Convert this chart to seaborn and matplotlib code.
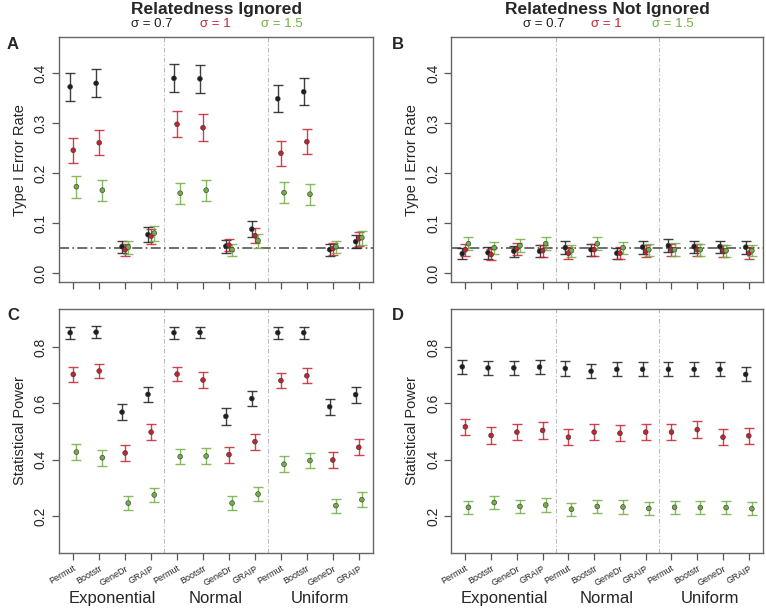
import numpy as np
import pandas as pd
import matplotlib
matplotlib.use("Agg")
import matplotlib.pyplot as plt
import seaborn as sns

methods = ["Permut", "Bootstr", "GeneDr", "GRAIP"] * 3
dists = ["Exponential", "Normal", "Uniform"]
sigmas = ["0.7", "1", "1.5"]
sigma_colors = ["#1e1e1e", "#c4232f", "#72ae45"]

# A: type I error, relatedness ignored
a_07 = [0.373, 0.380, 0.053, 0.077, 0.390, 0.389, 0.054, 0.088, 0.349, 0.363, 0.047, 0.063]
a_10 = [0.246, 0.261, 0.047, 0.074, 0.298, 0.291, 0.056, 0.075, 0.240, 0.263, 0.049, 0.069]
a_15 = [0.173, 0.166, 0.052, 0.080, 0.160, 0.166, 0.047, 0.065, 0.161, 0.158, 0.053, 0.071]
a_07_err = [0.028, 0.028, 0.012, 0.015, 0.028, 0.028, 0.013, 0.016, 0.027, 0.027, 0.012, 0.013]
a_10_err = [0.025, 0.025, 0.012, 0.015, 0.026, 0.027, 0.012, 0.015, 0.025, 0.025, 0.012, 0.014]
a_15_err = [0.022, 0.021, 0.013, 0.015, 0.021, 0.021, 0.012, 0.014, 0.021, 0.021, 0.012, 0.014]

# B: type I error, relatedness not ignored
b_07 = [0.039, 0.041, 0.044, 0.044, 0.051, 0.047, 0.040, 0.052, 0.055, 0.053, 0.053, 0.052]
b_10 = [0.047, 0.037, 0.049, 0.045, 0.040, 0.047, 0.040, 0.044, 0.047, 0.047, 0.045, 0.040]
b_15 = [0.059, 0.051, 0.055, 0.059, 0.045, 0.059, 0.051, 0.047, 0.047, 0.047, 0.045, 0.045]
b_07_err = [0.011, 0.012, 0.011, 0.012, 0.013, 0.012, 0.011, 0.013, 0.013, 0.012, 0.012, 0.013]
b_10_err = [0.012, 0.011, 0.012, 0.012, 0.012, 0.012, 0.012, 0.012, 0.012, 0.012, 0.012, 0.012]
b_15_err = [0.013, 0.012, 0.013, 0.013, 0.012, 0.013, 0.012, 0.012, 0.013, 0.012, 0.012, 0.011]

# C: power, relatedness ignored
c_07 = [0.851, 0.853, 0.569, 0.632, 0.851, 0.852, 0.554, 0.617, 0.851, 0.851, 0.588, 0.631]
c_10 = [0.703, 0.715, 0.424, 0.498, 0.704, 0.683, 0.418, 0.464, 0.681, 0.698, 0.399, 0.444]
c_15 = [0.427, 0.407, 0.246, 0.275, 0.411, 0.413, 0.246, 0.278, 0.384, 0.397, 0.237, 0.258]
c_07_err = [0.021, 0.021, 0.028, 0.027, 0.021, 0.020, 0.029, 0.028, 0.021, 0.021, 0.028, 0.028]
c_10_err = [0.026, 0.026, 0.028, 0.029, 0.026, 0.027, 0.028, 0.028, 0.027, 0.027, 0.028, 0.028]
c_15_err = [0.028, 0.028, 0.025, 0.026, 0.028, 0.028, 0.025, 0.026, 0.028, 0.028, 0.025, 0.026]

# D: power, relatedness not ignored
d_07 = [0.730, 0.726, 0.726, 0.729, 0.724, 0.714, 0.721, 0.721, 0.721, 0.721, 0.721, 0.703]
d_10 = [0.517, 0.486, 0.498, 0.504, 0.480, 0.498, 0.494, 0.498, 0.498, 0.507, 0.480, 0.485]
d_15 = [0.231, 0.248, 0.234, 0.239, 0.224, 0.234, 0.232, 0.227, 0.231, 0.230, 0.230, 0.226]
d_07_err = [0.025] * 12
d_10_err = [0.029] * 12
d_15_err = [0.024] * 12


def make_df(vals, errs):
    rows = []
    for k, (v, e) in enumerate(zip(vals, errs)):
        for i in range(12):
            rows.append({"pos": i + 1 + (k - 1) * 0.12, "val": v[i], "err": e[i],
                         "sigma": sigmas[k]})
    return pd.DataFrame(rows)


panels = {
    "A": make_df([a_07, a_10, a_15], [a_07_err, a_10_err, a_15_err]),
    "B": make_df([b_07, b_10, b_15], [b_07_err, b_10_err, b_15_err]),
    "C": make_df([c_07, c_10, c_15], [c_07_err, c_10_err, c_15_err]),
    "D": make_df([d_07, d_10, d_15], [d_07_err, d_10_err, d_15_err]),
}

sns.set_style("ticks")
plt.rcParams["font.family"] = ["Liberation Sans", "DejaVu Sans"]

fig = plt.figure(figsize=(7.66, 6.12), dpi=100)
boxes = {
    "A": [0.077, 0.539, 0.410, 0.400],
    "B": [0.589, 0.539, 0.407, 0.400],
    "C": [0.077, 0.097, 0.410, 0.398],
    "D": [0.589, 0.097, 0.407, 0.398],
}
axes = {}
for key, df in panels.items():
    ax = fig.add_axes(boxes[key])
    axes[key] = ax
    for k, s in enumerate(sigmas):
        sub = df[df["sigma"] == s]
        ax.errorbar(sub["pos"], sub["val"], yerr=sub["err"], fmt="none",
                    ecolor=sigma_colors[k], alpha=0.85, elinewidth=1.0,
                    capsize=3.6, capthick=1.0, zorder=2)
    sns.scatterplot(data=df, x="pos", y="val", hue="sigma", palette=sigma_colors,
                    hue_order=sigmas, s=12, edgecolor="#333333", linewidth=0.4,
                    legend=False, ax=ax, zorder=3)
    for xv in [4.5, 8.5]:
        ax.axvline(xv, color="#bbbbbb", lw=0.8, ls=(0, (4, 2, 1, 2)), zorder=1)
    ax.set_xlim(0.45, 12.55)
    ax.set_xticks(range(1, 13))
    ax.set_xlabel("")
    ax.set_ylabel("")
    for sp in ax.spines.values():
        sp.set_visible(True)
        sp.set_color("#666666")
        sp.set_linewidth(1.0)
    ax.tick_params(direction="out", length=5, width=0.9, color="#555555",
                   labelsize=10, pad=3)
    ax.tick_params(axis="y", labelrotation=90)

for key in ["A", "B"]:
    ax = axes[key]
    ax.set_ylim(-0.018, 0.472)
    ax.set_yticks([0.0, 0.1, 0.2, 0.3, 0.4])
    ax.set_yticklabels(["0.0", "0.1", "0.2", "0.3", "0.4"], va="center")
    ax.set_xticklabels([])
    ax.axhline(0.05, color="#555555", lw=1.2, ls=(0, (6, 2, 1, 2)), zorder=1)
    ax.set_ylabel("Type I Error Rate", fontsize=10.5, labelpad=5)

for key in ["C", "D"]:
    ax = axes[key]
    ax.set_ylim(0.07, 0.935)
    ax.set_yticks([0.2, 0.4, 0.6, 0.8])
    ax.set_yticklabels(["0.2", "0.4", "0.6", "0.8"], va="center")
    ax.set_xticklabels(methods, rotation=30, ha="right", rotation_mode="anchor",
                       fontsize=6.5)
    ax.set_ylabel("Statistical Power", fontsize=10.5, labelpad=5)
    for pos, name in zip([2.5, 6.5, 10.5], dists):
        ax.text(pos, -0.19, name, transform=ax.get_xaxis_transform(),
                ha="center", va="center", fontsize=12)

for key, title in [("A", "Relatedness Ignored"), ("B", "Relatedness Not Ignored")]:
    ax = axes[key]
    ax.text(0.5, 1.115, title, transform=ax.transAxes, ha="center", va="center",
            fontsize=12.5, fontweight="bold")
    for xf, s, c in zip([0.296, 0.497, 0.71], sigmas, sigma_colors):
        ax.text(xf, 1.053, "σ = " + s, transform=ax.transAxes, ha="center",
                va="center", fontsize=9.5, color=c)

for key, (fx, fy) in {"A": (0.009, 0.927), "B": (0.511, 0.927),
                      "C": (0.009, 0.484), "D": (0.511, 0.484)}.items():
    fig.text(fx, fy, key, fontsize=12, fontweight="bold", ha="left", va="center")

fig.savefig("out.png", dpi=100)
